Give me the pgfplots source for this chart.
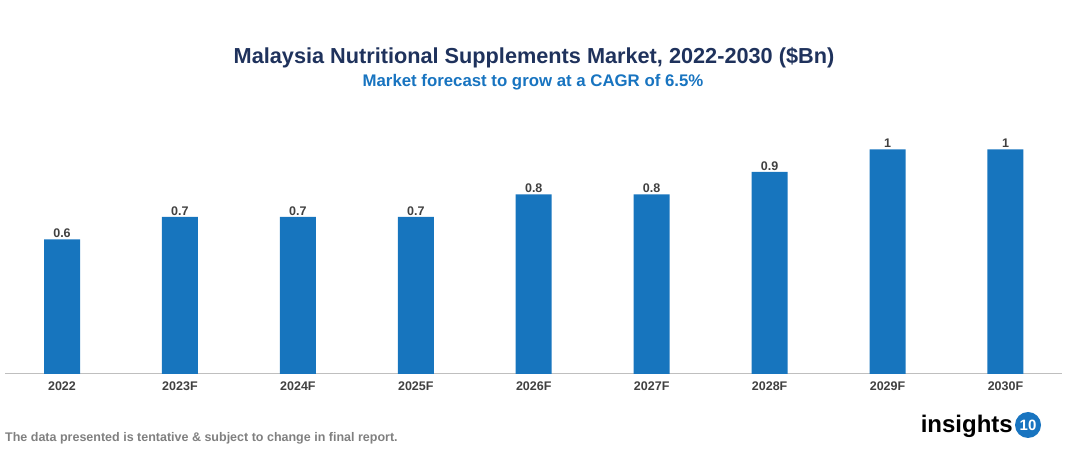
\documentclass[border=0pt]{standalone}
\usepackage{fontspec}
\setmainfont{Liberation Sans}
\usepackage{pgfplots}
\pgfplotsset{compat=1.18}
\definecolor{barblue}{RGB}{23,117,190}
\definecolor{titlenavy}{RGB}{31,50,92}
\definecolor{subblue}{RGB}{24,116,192}
\definecolor{labgray}{RGB}{64,64,64}
\definecolor{footgray}{RGB}{128,128,128}
\definecolor{axgray}{RGB}{191,191,191}
\begin{document}
\begin{tikzpicture}[x=1pt,y=1pt]
\useasboundingbox (0,0) rectangle (1067,454);
\begin{axis}[
  at={(62pt,80pt)}, anchor=origin,
  scale only axis,
  width=1057pt, height=269.4pt,
  xmin=-0.483, xmax=8.48,
  ymin=0, ymax=1.2,
  axis y line=none,
  axis x line*=bottom,
  x axis line style={axgray, line width=1pt, -},
  xtick=data,
  xticklabels={2022,2023F,2024F,2025F,2026F,2027F,2028F,2029F,2030F},
  major tick length=0pt,
  xticklabel style={font=\bfseries\fontsize{12.5}{14}\selectfont, text=labgray, yshift=-4pt},
  /pgf/number format/assume math mode=true,
  ybar, bar width=36pt,
  nodes near coords,
  every node near coord/.append style={font=\bfseries\fontsize{12.5}{14}\selectfont, text=labgray, yshift=-2pt},
  clip=false,
]
\addplot[fill=barblue, draw=none] coordinates {
 (0,0.6) (1,0.7) (2,0.7) (3,0.7) (4,0.8) (5,0.8) (6,0.9) (7,1) (8,1)};
\end{axis}
\node[font=\bfseries\fontsize{21.7}{25}\selectfont, text=titlenavy] at (534,396) {Malaysia Nutritional Supplements Market, 2022-2030 (\$Bn)};
\node[font=\bfseries\fontsize{16.8}{19}\selectfont, text=subblue] at (533,372) {Market forecast to grow at a CAGR of 6.5\%};
\node[font=\bfseries\fontsize{12.5}{14}\selectfont, text=footgray, anchor=west, inner sep=0pt] at (5,16) {The data presented is tentative \& subject to change in final report.};
\node[font=\bfseries\fontsize{24}{28}\selectfont, text=black, anchor=east, inner sep=0pt] at (1013,28) {insights};
\node[circle, fill=subblue, text=white, inner sep=0pt, minimum size=26pt, font=\bfseries\fontsize{15}{17}\selectfont] at (1028,29) {10};
\end{tikzpicture}
\end{document}
